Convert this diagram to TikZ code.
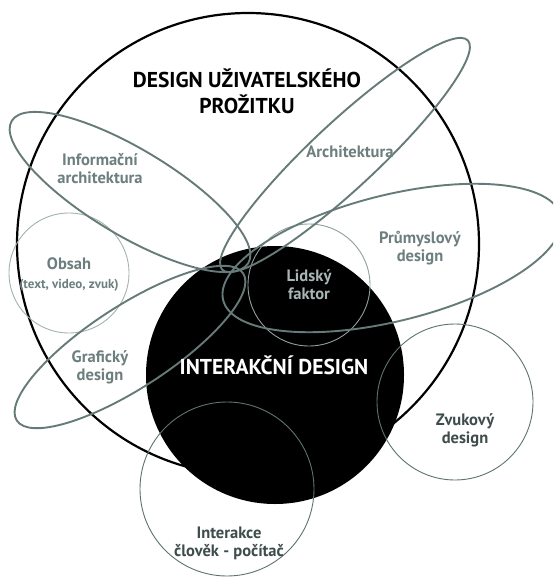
\documentclass[tikz,border=0pt]{standalone}
\usepackage{fontspec}
\setmainfont{PT Sans}
\definecolor{ellc}{HTML}{667B79}
\definecolor{lblc}{HTML}{6C7F7E}
\definecolor{darklbl}{HTML}{3E4C4B}
\definecolor{obsc}{HTML}{A3B3B1}
\definecolor{lidc}{HTML}{8FA09E}
\definecolor{lidtext}{HTML}{A9B5B4}
\definecolor{thinc}{HTML}{5E7371}
\begin{document}
\begin{tikzpicture}[x=1pt,y=-1pt,
  ellline/.style={draw=ellc, line width=1.9pt},
  thinline/.style={draw=thinc, line width=0.9pt},
  lbl/.style={text=lblc, font=\fontsize{16.5}{18}\selectfont\bfseries, align=center, inner sep=0pt},
  dlbl/.style={text=darklbl, font=\fontsize{16.5}{18}\selectfont\bfseries, align=center, inner sep=0pt},
  title/.style={text=black, font=\fontsize{21.5}{26}\selectfont\bfseries, align=center, inner sep=0pt}]
\clip (0,0) rectangle (553,577);
\fill[white] (0,0) rectangle (553,577);
% big UX circle
\draw[line width=2.2pt, black] (248,244) circle[radius=231pt];
% interaction design disc
\fill[black] (275,375) circle[radius=129pt];
% thin circles
\draw[draw=obsc, line width=0.9pt] (69,273) circle[radius=60pt];
\draw[draw=lidc, line width=0.9pt] (309,285) circle[radius=61pt];
\draw[thinline] (455,402) circle[radius=78pt];
\draw[thinline] (227,489) circle[radius=87pt];
% ellipses
\draw[ellline, rotate around={-31:(130,192)}] (130,192) ellipse [x radius=138pt, y radius=43pt];
\draw[ellline, rotate around={43:(345,155)}] (345,155) ellipse [x radius=168pt, y radius=33pt];
\draw[ellline, rotate around={14:(392,258)}] (392,258) ellipse [x radius=174pt, y radius=63pt];
\draw[ellline, rotate around={33:(130,347)}] (130,347) ellipse [x radius=135pt, y radius=41pt];
% texts
\node[title] (ux) at (247,91) {DESIGN UŽIVATELSKÉHO\\PROŽITKU};
\node[lbl] (info) at (100,168.5) {Informační\\architektura};
\node[lbl] (arch) at (350,152) {Architektura};
\node[lbl] (prum) at (420,248.5) {Průmyslový\\design};
\node[lbl] (obsah) at (69,264) {Obsah};
\node[text=lblc, font=\fontsize{13}{14}\selectfont\bfseries, inner sep=0pt] (obsahsub) at (69,285) {(text, video, zvuk)};
\node[text=lidtext, font=\fontsize{16.5}{18}\selectfont\bfseries, align=center, inner sep=0pt] (lid) at (309,285) {Lidský\\faktor};
\node[lbl] (graf) at (100,367) {Grafický\\design};
\node[text=white, font=\fontsize{21.5}{24}\selectfont\bfseries, inner sep=0pt] (ixd) at (274,365) {INTERAKČNÍ DESIGN};
\node[dlbl] (zvuk) at (465,430) {Zvukový\\design};
\node[dlbl] (hci) at (229,543) {Interakce\\člověk - počítač};
\end{tikzpicture}
\end{document}
